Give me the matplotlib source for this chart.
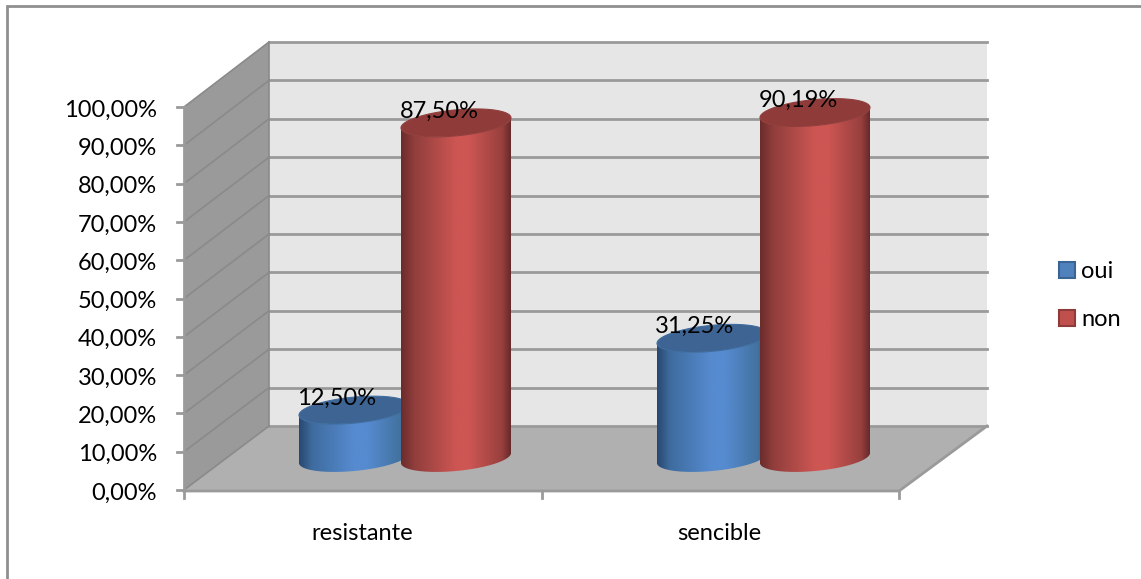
import numpy as np
import matplotlib
matplotlib.use('Agg')
import matplotlib.pyplot as plt
from matplotlib.colors import LinearSegmentedColormap
from matplotlib.patches import Polygon, Rectangle

# ----------------------------------------------------------------------------------------------------------------------
# Data
# ----------------------------------------------------------------------------------------------------------------------
categories = ['resistante', 'sencible']
oui = [12.50, 31.25]
non = [87.50, 90.19]
series_names = ['oui', 'non']
ticks = [0, 10, 20, 30, 40, 50, 60, 70, 80, 90, 100]

plt.rcParams['font.family'] = ['Lato', 'DejaVu Sans']

# chart box, in pixels
front_x0, front_x1 = 184, 899
front_y0, front_y100 = 490, 107
depth_x, depth_y = 85, -64
base_y = 458
bar_a, bar_b, bar_tilt = 55, 13, 5
centers_oui = [354, 712]
centers_non = [456, 815]
font_px = 17

col_oui = ['#28486f', '#3f6c9f', '#568bd0', '#568bd0', '#42729f', '#2f5a8c']
col_non = ['#6b2c2c', '#903e3c', '#cd5653', '#cd5653', '#98403e', '#662929']
top_oui, top_non = '#3d6492', '#8f3b39'
grid_col = '#9a9a9a'


def val_y(v, y0=front_y0):
    return y0 - v * (front_y0 - front_y100) / 100


def cap(cx, cy, t):
    return cx + bar_a * np.cos(t), cy - bar_tilt * np.cos(t) + bar_b * np.sin(t)


def cylinder(ax, cx, value, colors, top_color):
    top = val_y(value, base_y)
    t = np.linspace(0, np.pi, 80)
    bx, by = cap(cx, base_y, t)
    tx, ty = cap(cx, top, t[::-1])
    body = Polygon(np.column_stack([np.r_[bx, tx], np.r_[by, ty]]), closed=True,
                   fc='none', ec='none', transform=ax.transData)
    ax.add_patch(body)
    cmap = LinearSegmentedColormap.from_list(
        'cyl', list(zip([0, 0.12, 0.5, 0.62, 0.92, 1], colors)))
    im = ax.imshow(np.linspace(0, 1, 256)[None, :], cmap=cmap, aspect='auto',
                   extent=(cx - bar_a, cx + bar_a, 579, 0), zorder=3 + cx / 1000)
    im.set_clip_path(body)
    t = np.linspace(0, 2 * np.pi, 160)
    ex, ey = cap(cx, top, t)
    ax.fill(ex, ey, fc=top_color, ec=colors[1], lw=0.8, zorder=3 + cx / 1000)


fig = plt.figure(figsize=(11.41, 5.79), dpi=100)
ax = fig.add_axes([0, 0, 1, 1])

# outer frame, only the top and left edges show
ax.plot([1141, 7, 7], [6, 6, 579], color='#8f8f8f', lw=2, solid_joinstyle='miter')

# walls and floor
back_x0, back_x1 = front_x0 + depth_x, front_x1 + depth_x + 3
back_y0, back_y100 = front_y0 + depth_y, front_y100 + depth_y - 1
ax.add_patch(Polygon([(back_x0, back_y100), (back_x1, back_y100), (back_x1, back_y0), (back_x0, back_y0)],
                     fc='#e6e6e6', ec='none'))
ax.add_patch(Polygon([(front_x0, front_y100), (back_x0, back_y100), (back_x0, back_y0), (front_x0, front_y0)],
                     fc='#9a9a9a', ec='none'))
ax.add_patch(Polygon([(front_x0, front_y0), (back_x0, back_y0), (back_x1, back_y0), (front_x1, front_y0)],
                     fc='#b0b0b0', ec='none'))

for v in ticks:
    yf = val_y(v)
    yb = back_y0 - v * (back_y0 - back_y100) / 100
    ax.plot([back_x0, back_x1], [yb, yb], color=grid_col, lw=2, zorder=2)
    ax.plot([front_x0, back_x0], [yf, yb], color='#8a8a8a', lw=1.2, zorder=2)
    ax.plot([front_x0 - 7, front_x0], [yf, yf], color=grid_col, lw=2, zorder=2)
    ax.text(157, yf + 3, f'{v},00%', ha='right', va='center', fontsize=font_px, color='black')

# axis lines
ax.plot([front_x0, front_x0], [front_y100, front_y0], color=grid_col, lw=2, zorder=2)
ax.plot([back_x0, back_x0], [back_y100, back_y0], color='#8a8a8a', lw=1.2, zorder=2)
ax.plot([front_x0, front_x1, back_x1], [front_y0 + 1, front_y0 + 1, back_y0], color=grid_col, lw=2, zorder=2)
xt = np.linspace(front_x0, front_x1, len(categories) + 1)
for x in xt:
    ax.plot([x, x], [front_y0 + 1, front_y0 + 8], color=grid_col, lw=2, zorder=2)
for i, name in enumerate(categories):
    ax.text((xt[i] + xt[i + 1]) / 2 - 1, 534, name, ha='center', va='center', fontsize=font_px, color='black')

# bars, left to right so each one hides the back of the previous
for i in range(len(categories)):
    cylinder(ax, centers_oui[i], oui[i], col_oui, top_oui)
    cylinder(ax, centers_non[i], non[i], col_non, top_non)

for centers, values in ((centers_oui, oui), (centers_non, non)):
    for cx, v in zip(centers, values):
        ax.text(cx - 17, val_y(v, base_y) - 12, f'{v:.2f}%'.replace('.', ','),
                ha='center', va='center', fontsize=font_px, color='black', zorder=6)

# legend
for y, name, fc, ec in ((270, series_names[0], '#4f81bd', '#3a6494'), (318, series_names[1], '#c0504d', '#8f3b39')):
    ax.add_patch(Rectangle((1059, y - 8), 16, 16, fc=fc, ec=ec, lw=1.5))
    ax.text(1081, y + 1, name, ha='left', va='center', fontsize=font_px, color='black')

ax.set_xlim(0, 1141)
ax.set_ylim(579, 0)
ax.axis('off')
plt.savefig('out.png', dpi=100)
